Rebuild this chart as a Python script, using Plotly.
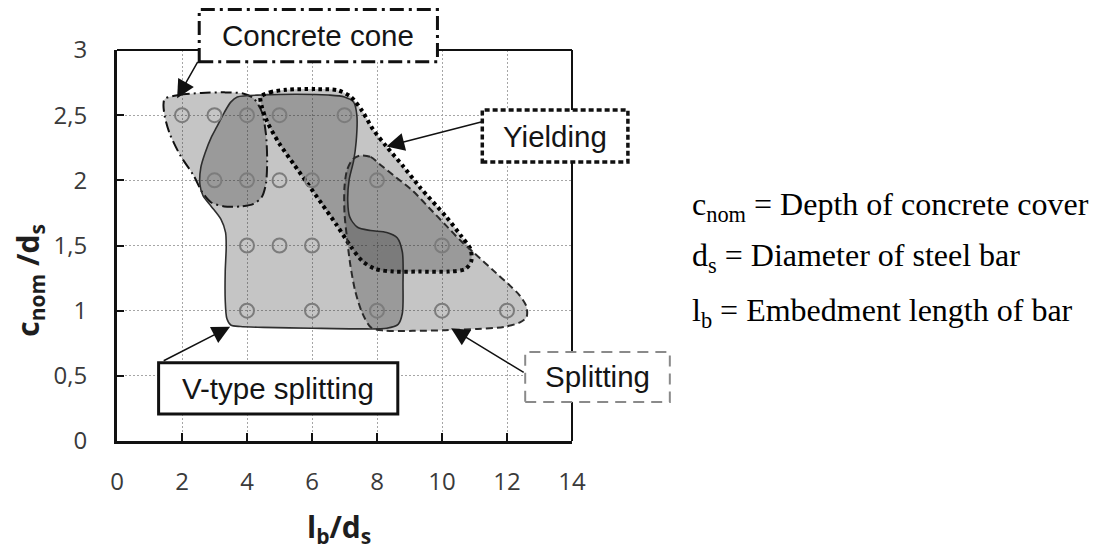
import plotly.graph_objects as go

# Axis extents and ticks
X_RANGE = [0, 14]
Y_RANGE = [0, 3]
x_ticks = [0, 2, 4, 6, 8, 10, 12, 14]
y_ticks = [0, 0.5, 1, 1.5, 2, 2.5, 3]

# Tested combinations (l_b/d_s, c_nom/d_s)
test_lb = [2, 3, 4, 5, 7,
           3, 4, 5, 6, 8,
           4, 5, 6, 8, 10,
           4, 6, 8, 10, 12]
test_c = [2.5, 2.5, 2.5, 2.5, 2.5,
          2.0, 2.0, 2.0, 2.0, 2.0,
          1.5, 1.5, 1.5, 1.5, 1.5,
          1.0, 1.0, 1.0, 1.0, 1.0]

# Failure-mode region outlines
cone_x = [1.47, 1.9, 2.6, 3.3, 3.9, 4.2, 4.45, 4.58, 4.62, 4.58, 4.45, 4.2,
          3.8, 3.3, 2.9, 2.62, 2.35, 1.95, 1.62, 1.47, 1.43, 1.47]
cone_y = [2.625, 2.655, 2.67, 2.675, 2.665, 2.63, 2.53, 2.36, 2.15, 1.97, 1.87, 1.82,
          1.80, 1.80, 1.83, 1.91, 2.04, 2.19, 2.36, 2.49, 2.58, 2.625]

vtype_x = [3.7, 4.5, 5.5, 6.5, 7.0, 7.28, 7.38, 7.36, 7.28, 7.14, 7.1, 7.16, 7.4, 7.8,
           8.3, 8.62, 8.78, 8.8, 8.78, 8.65, 8.3, 7.5, 6.0, 4.5, 3.8, 3.5, 3.38,
           3.33, 3.33, 3.36, 3.34, 3.2, 2.9, 2.65, 2.55, 2.58, 2.71, 2.9, 3.07,
           3.3, 3.5, 3.7]
vtype_y = [2.64, 2.655, 2.66, 2.655, 2.64, 2.6, 2.5, 2.3, 2.15, 2.0, 1.84, 1.72, 1.64,
           1.615, 1.6, 1.56, 1.45, 1.2, 0.98, 0.895, 0.865, 0.86, 0.865, 0.872, 0.878,
           0.89, 0.94, 1.08, 1.3, 1.49, 1.6, 1.7, 1.8, 1.88, 1.97, 2.1, 2.21, 2.33,
           2.41, 2.52, 2.6, 2.64]

yield_x = [4.42, 4.7, 5.2, 6.1, 6.8, 7.2, 7.55, 7.88, 8.29, 8.8, 9.31, 10.13, 10.6,
           10.88, 10.9, 10.72, 10.2, 9.3, 8.5, 7.95, 7.55, 7.2, 6.75, 6.3, 5.85,
           5.45, 5.0, 4.62, 4.45, 4.42]
yield_y = [2.64, 2.675, 2.695, 2.7, 2.69, 2.64, 2.53, 2.39, 2.26, 2.11, 1.95, 1.72,
           1.57, 1.47, 1.38, 1.32, 1.30, 1.30, 1.30, 1.32, 1.38, 1.49, 1.66, 1.82,
           1.98, 2.12, 2.28, 2.45, 2.57, 2.64]

split_x = [7.47, 7.8, 8.1, 8.6, 9.1, 9.6, 10.1, 10.6, 11.0, 11.66, 12.1, 12.38,
           12.6, 12.6, 12.4, 11.9, 11.1, 10.1, 9.1, 8.2, 7.82, 7.55, 7.33, 7.18,
           7.08, 7.0, 7.0, 7.08, 7.25, 7.47]
split_y = [2.19, 2.18, 2.12, 2.02, 1.92, 1.79, 1.66, 1.53, 1.44, 1.29, 1.19, 1.12,
           1.03, 0.95, 0.91, 0.875, 0.86, 0.85, 0.845, 0.848, 0.87, 0.98, 1.15,
           1.35, 1.55, 1.75, 1.95, 2.08, 2.16, 2.19]

# Label boxes
box_labels = ["Concrete cone", "Yielding", "V-type splitting", "Splitting"]
box_x0 = [2.53, 11.24, 1.28, 12.56]
box_x1 = [9.86, 15.72, 8.64, 17.01]
box_y0 = [2.91, 2.14, 0.207, 0.30]
box_y1 = [3.31, 2.54, 0.60, 0.683]
box_line_color = ["#111111", "#111111", "#111111", "#8a8a8a"]
box_line_dash = ["14px,5px,3px,5px", "5px,3px", "solid", "11px,7px"]
box_line_width = [3, 3.5, 3, 2]

# Leader arrows: head (x, y) and tail (ax, ay) in axis units
arrow_x = [1.85, 8.29, 3.48, 10.28]
arrow_y = [2.63, 2.26, 0.877, 0.865]
arrow_ax = [2.51, 11.25, 1.39, 12.56]
arrow_ay = [2.92, 2.45, 0.61, 0.52]

# Axis titles (placed in axis units)
x_title = "<b>l<sub>b</sub>/d<sub>s</sub></b>"
x_title_pos = (6.83, -0.665)
y_title = "<b>c<sub>nom</sub> /d<sub>s</sub></b>"
y_title_pos = (-2.72, 1.235)

# Symbol definitions shown beside the plot
legend_lines = ["c<sub>nom</sub> = Depth of concrete cover",
                "d<sub>s</sub> = Diameter of steel bar",
                "l<sub>b</sub> = Embedment length of bar"]
legend_x = 17.63
legend_y = [1.80, 1.41, 0.985]


def paper_x(v):
    return (v - X_RANGE[0]) / (X_RANGE[1] - X_RANGE[0])


def paper_y(v):
    return (v - Y_RANGE[0]) / (Y_RANGE[1] - Y_RANGE[0])


REGION_FILL = "rgba(40,40,40,0.27)"

fig = go.Figure()

regions = [
    (cone_x, cone_y, "#111111", "11px,4px,2px,4px", 2.0),
    (vtype_x, vtype_y, "#2e2e2e", "solid", 1.6),
    (yield_x, yield_y, "#000000", "3.5px,3.5px", 4.0),
    (split_x, split_y, "#2a2a2a", "7px,4px", 2.0),
]
for rx, ry, col, dash, w in regions:
    fig.add_trace(go.Scatter(
        x=rx, y=ry, mode="lines", fill="toself", fillcolor=REGION_FILL,
        line=dict(color=col, dash=dash, width=w, shape="spline", smoothing=0.8),
        hoverinfo="skip", showlegend=False,
    ))

fig.add_trace(go.Scatter(
    x=test_lb, y=test_c, mode="markers",
    marker=dict(symbol="circle-open", size=14, color="#7c7c7c",
                line=dict(width=2, color="#7c7c7c")),
    showlegend=False,
))

shapes = [
    # upper and right frame of the plot area
    dict(type="line", xref="paper", yref="paper", x0=0, x1=1, y0=1, y1=1,
         line=dict(color="#111111", width=2), layer="above"),
    dict(type="line", xref="paper", yref="paper", x0=1, x1=1, y0=0, y1=1,
         line=dict(color="#111111", width=2), layer="above"),
]
annotations = []
for i, label in enumerate(box_labels):
    shapes.append(dict(
        type="rect", xref="paper", yref="paper",
        x0=paper_x(box_x0[i]), x1=paper_x(box_x1[i]),
        y0=paper_y(box_y0[i]), y1=paper_y(box_y1[i]),
        fillcolor="white", layer="above",
        line=dict(color=box_line_color[i], dash=box_line_dash[i], width=box_line_width[i]),
    ))
    annotations.append(dict(
        xref="paper", yref="paper",
        x=paper_x((box_x0[i] + box_x1[i]) / 2), y=paper_y((box_y0[i] + box_y1[i]) / 2),
        text=label, showarrow=False, xanchor="center", yanchor="middle",
        font=dict(family="Liberation Sans, Arial", size=29.5, color="#151515"),
    ))

for hx, hy, tx, ty in zip(arrow_x, arrow_y, arrow_ax, arrow_ay):
    annotations.append(dict(
        x=hx, y=hy, ax=tx, ay=ty, xref="x", yref="y", axref="x", ayref="y",
        text="", showarrow=True, arrowhead=2, arrowsize=2.4, arrowwidth=1.5,
        arrowcolor="#111111", standoff=0,
    ))

for line, ly in zip(legend_lines, legend_y):
    annotations.append(dict(
        xref="paper", yref="paper", x=paper_x(legend_x), y=paper_y(ly),
        text=line, showarrow=False, xanchor="left", yanchor="middle",
        font=dict(family="Liberation Serif, Times New Roman", size=32, color="#000000"),
    ))

annotations.append(dict(
    xref="paper", yref="paper", x=paper_x(x_title_pos[0]), y=paper_y(x_title_pos[1]),
    text=x_title, showarrow=False, xanchor="center", yanchor="middle",
    font=dict(family="Open Sans", size=30, color="#1e1e1e"),
))
annotations.append(dict(
    xref="paper", yref="paper", x=paper_x(y_title_pos[0]), y=paper_y(y_title_pos[1]),
    text=y_title, showarrow=False, xanchor="center", yanchor="middle", textangle=-90,
    font=dict(family="Open Sans", size=30, color="#1e1e1e"),
))

fig.update_layout(
    width=1099, height=554, autosize=False,
    margin=dict(l=117, r=527, t=50, b=113),
    paper_bgcolor="white", plot_bgcolor="white",
    separators=",.",
    showlegend=False,
    shapes=shapes, annotations=annotations,
)

fig.update_xaxes(
    range=X_RANGE, tickvals=x_ticks, ticks="inside", ticklen=8, tickwidth=2,
    tickcolor="#111111", showline=True, linewidth=3, linecolor="#111111",
    showgrid=True, gridcolor="#a6a6a6", gridwidth=1, griddash="2px,2px",
    zeroline=False, ticklabelstandoff=17,
    tickfont=dict(family="Open Sans", size=24, color="#3a3a3a"),
)
fig.update_yaxes(
    range=Y_RANGE, tickvals=y_ticks, ticks="inside", ticklen=7, tickwidth=2,
    tickcolor="#111111", showline=True, linewidth=3, linecolor="#111111",
    showgrid=True, gridcolor="#a6a6a6", gridwidth=1, griddash="2px,2px",
    zeroline=False, ticklabelstandoff=22,
    tickfont=dict(family="Open Sans", size=24, color="#3a3a3a"),
)

fig.write_html("out.html")
